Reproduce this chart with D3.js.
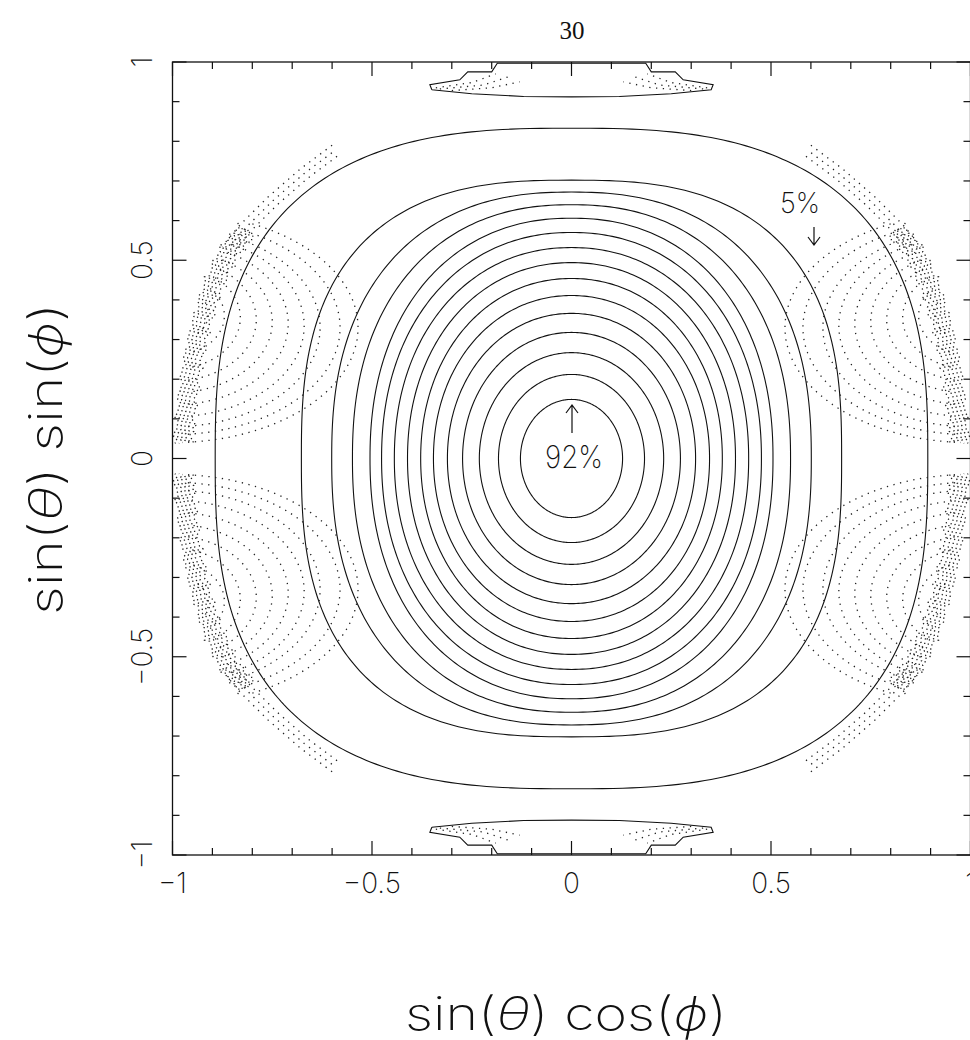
<!DOCTYPE html>
<html>
<head>
<meta charset="utf-8">
<script src="https://cdn.jsdelivr.net/npm/d3@7"></script>
<style>
  body { margin: 0; background: #fff; }
  svg text { font-family: Inter, "DejaVu Sans", sans-serif; font-weight: 200; fill: #111; }
</style>
</head>
<body>
<svg id="chart" width="970" height="1040"></svg>
<script>
// ── data (data units) ──
// solid acceptance contours: x half-width, y half-height, superellipse exponent
const solidA = [0.128, 0.183, 0.231, 0.273, 0.311, 0.346, 0.378, 0.411, 0.444, 0.476, 0.505, 0.549, 0.601, 0.677, 0.893];
const solidB = [0.149, 0.212, 0.267, 0.318, 0.366, 0.411, 0.454, 0.494, 0.532, 0.570, 0.606, 0.640, 0.672, 0.702, 0.833];
const solidN = [2.0, 2.0, 2.0, 2.02, 2.04, 2.06, 2.08, 2.1, 2.12, 2.15, 2.2, 2.27, 2.38, 2.7, 2.75];

// dotted side lobes (upper right; mirrored): nested arcs around x = 1
const lobeRx = [0.05, 0.09, 0.13, 0.17, 0.21, 0.25, 0.29, 0.33, 0.37, 0.42, 0.465];
const lobeRy = [0.04, 0.07, 0.10, 0.13, 0.155, 0.18, 0.205, 0.23, 0.25, 0.27, 0.29];
const lobeCy = [0.37, 0.365, 0.36, 0.355, 0.35, 0.345, 0.34, 0.335, 0.33, 0.33, 0.33];

// acceptance rim (first quadrant), from the top down to the x axis
const rimX = [0.60, 0.68, 0.76, 0.83, 0.88, 0.92, 0.95, 0.972, 0.986, 0.995];
const rimY = [0.79, 0.73, 0.66, 0.59, 0.53, 0.44, 0.34, 0.24, 0.13, 0.03];

// top / bottom caps (polygon outlines)
const capTopX = [-0.35, -0.355, -0.28, -0.26, -0.20, -0.186, 0.186, 0.20, 0.26, 0.28, 0.355, 0.35, 0.25, 0.12, 0, -0.12, -0.25];
const capTopY = [0.930, 0.943, 0.955, 0.975, 0.975, 0.997, 0.997, 0.975, 0.975, 0.955, 0.943, 0.930, 0.920, 0.913, 0.912, 0.913, 0.920];
// dotted lines inside the caps (left half, mirrored)
const capDotX = [[-0.34, -0.25, -0.19], [-0.33, -0.22, -0.16], [-0.30, -0.2, -0.13]];
const capDotY = [[0.935, 0.948, 0.97], [0.932, 0.942, 0.962], [0.928, 0.935, 0.95]];

const xTicks = [-1, -0.5, 0, 0.5, 1];
const xTickLabels = ["\u22121", "\u22120.5", "0", "0.5", "1"];
const yTicks = [-1, -0.5, 0, 0.5, 1];
const yTickLabels = ["\u22121", "\u22120.5", "0", "0.5", "1"];

const svg = d3.select("#chart");
const x = d3.scaleLinear().domain([-1, 1]).range([172.5, 970.5]);
const y = d3.scaleLinear().domain([-1, 1]).range([855, 62]);

svg.append("defs").append("clipPath").attr("id", "plotclip")
  .append("rect").attr("x", 172.5).attr("y", 62).attr("width", 798).attr("height", 793);

const plot = svg.append("g").attr("clip-path", "url(#plotclip)");
const line = d3.line().x(d => x(d[0])).y(d => y(d[1]));
const lineDef = d3.line().defined(d => d).x(d => x(d[0])).y(d => y(d[1]));

function dotted(sel) {
  return sel.attr("fill", "none").attr("stroke", "#222").attr("stroke-width", 1.3)
    .attr("stroke-dasharray", "1.3,5.5");
}

// superellipse points
function superPts(a, b, n) {
  const pts = [];
  for (let i = 0; i <= 360; i++) {
    const t = i / 360 * 2 * Math.PI;
    const c = Math.cos(t), s = Math.sin(t);
    pts.push([a * Math.sign(c) * Math.pow(Math.abs(c), 2 / n), b * Math.sign(s) * Math.pow(Math.abs(s), 2 / n)]);
  }
  return pts;
}

solidA.forEach((a, i) => {
  plot.append("path").attr("d", line(superPts(a, solidB[i], solidN[i])))
    .attr("fill", "none").attr("stroke", "#111").attr("stroke-width", 1.1);
});

// rim polygon (right half) used to trim the lobes
const rimQ1 = rimX.map((v, i) => [v, rimY[i]]);
const rimRight = [[0.5, 1.2]].concat(rimQ1, rimQ1.slice().reverse().map(p => [p[0], -p[1]]), [[0.5, -1.2]]);
const quads = [[1, 1], [1, -1], [-1, 1], [-1, -1]];

// dense rim sample
function rimPts(scale, i0, i1, wig) {
  const pts = [];
  for (let i = i0; i < i1; i++) {
    const p = rimQ1[i], q = rimQ1[i + 1];
    for (let k = 0; k < 12; k++) {
      const f = k / 12, j = i * 12 + k;
      const s = scale + wig * Math.sin(j * 1.7) * Math.cos(j * 0.6);
      pts.push([(p[0] + (q[0] - p[0]) * f) * s, (p[1] + (q[1] - p[1]) * f) * s]);
    }
  }
  return pts;
}

quads.forEach(([sx, sy]) => {
  // nested lobe arcs
  lobeRx.forEach((rx, i) => {
    const ry = lobeRy[i], cy = lobeCy[i];
    const pts = [];
    for (let j = 0; j <= 240; j++) {
      const t = j / 240 * 2 * Math.PI;
      const p = [1 + rx * Math.cos(t), cy + ry * Math.sin(t)];
      const inside = d3.polygonContains(rimRight, [p[0] / 0.985, p[1] / 0.985]);
      if (inside) pts.push([sx * p[0], sy * p[1]]);
      else if (pts.length && pts[pts.length - 1]) pts.push(null);
    }
    dotted(plot.append("path").attr("d", lineDef(pts)));
  });
  // smooth rim lines near the top
  [1.0, 0.985, 0.97].forEach((s, k) => {
    const pts = rimPts(s, 0, 4, 0).map(p => [sx * p[0], sy * p[1]]);
    dotted(plot.append("path").attr("d", line(pts))).attr("stroke-dashoffset", k * 2);
  });
  // ragged band along the lower rim
  [1.0, 0.99, 0.98, 0.97, 0.958].forEach((s, k) => {
    const pts = rimPts(s, 3, 9, 0.008).map(p => [sx * p[0], sy * p[1]]);
    dotted(plot.append("path").attr("d", line(pts))).attr("stroke-dasharray", "1.3,3.2")
      .attr("stroke-dashoffset", k * 1.5);
  });
});

// caps
[1, -1].forEach(sgn => {
  const pts = capTopX.map((v, i) => [v, sgn * capTopY[i]]);
  pts.push(pts[0]);
  plot.append("path").attr("d", line(pts))
    .attr("fill", "none").attr("stroke", "#111").attr("stroke-width", 1.1);
  [1, -1].forEach(side => {
    capDotX.forEach((xs, i) => {
      const p = xs.map((v, j) => [side * v, sgn * capDotY[i][j]]);
      dotted(plot.append("path").attr("d", line(p)));
    });
  });
});

// frame + ticks
svg.append("rect").attr("x", 172.5).attr("y", 62).attr("width", 798).attr("height", 793)
  .attr("fill", "none").attr("stroke", "#111").attr("stroke-width", 1.3);

const minor = d3.range(-10, 11).map(d => d / 10);
const tk = svg.append("g").attr("stroke", "#111").attr("stroke-width", 1.2);
minor.forEach(v => {
  const major = Math.abs(v * 2 - Math.round(v * 2)) < 1e-6;
  const L = major ? 14 : 7;
  tk.append("line").attr("x1", x(v)).attr("x2", x(v)).attr("y1", 62).attr("y2", 62 + L);
  tk.append("line").attr("x1", x(v)).attr("x2", x(v)).attr("y1", 855).attr("y2", 855 - L);
  tk.append("line").attr("y1", y(v)).attr("y2", y(v)).attr("x1", 172.5).attr("x2", 172.5 + L);
  tk.append("line").attr("y1", y(v)).attr("y2", y(v)).attr("x1", 970.5).attr("x2", 970.5 - L);
});

xTicks.forEach((v, i) => {
  svg.append("text").attr("x", x(v)).attr("y", 893).attr("text-anchor", "middle")
    .attr("font-size", 28).text(xTickLabels[i]);
});
yTicks.forEach((v, i) => {
  svg.append("text").attr("transform", `translate(152,${y(v)}) rotate(-90)`)
    .attr("text-anchor", "middle").attr("font-size", 28).text(yTickLabels[i]);
});

// title + axis titles
svg.append("text").attr("x", 572).attr("y", 39).attr("text-anchor", "middle")
  .style("font-family", "'Liberation Serif', serif").style("font-weight", 400).attr("font-size", 25).text("30");

function axisTitle(sel, word) {
  sel.attr("text-anchor", "middle").attr("font-size", 46)
    .attr("textLength", word === "cos" ? 322 : 312).attr("lengthAdjust", "spacingAndGlyphs");
  sel.append("tspan").text("sin(");
  sel.append("tspan").attr("font-style", "italic").text("\u03b8");
  sel.append("tspan").text(") " + word + "(");
  sel.append("tspan").attr("font-style", "italic").text("\u03d5");
  sel.append("tspan").text(")");
}
axisTitle(svg.append("text").attr("x", 566).attr("y", 1030), "cos");
axisTitle(svg.append("text").attr("transform", "translate(62,459) rotate(-90)"), "sin");

// annotations
svg.append("text").attr("x", 574).attr("y", 468).attr("text-anchor", "middle")
  .attr("font-size", 31).attr("textLength", 58).attr("lengthAdjust", "spacingAndGlyphs").text("92%");
svg.append("text").attr("x", 800).attr("y", 213).attr("text-anchor", "middle")
  .attr("font-size", 29).attr("textLength", 40).attr("lengthAdjust", "spacingAndGlyphs").text("5%");
const ar = svg.append("g").attr("stroke", "#111").attr("stroke-width", 1.2).attr("fill", "none");
ar.append("path").attr("d", "M572,433 V405 M566,413 L572,405 L578,413");
ar.append("path").attr("d", "M814,227 V245 M808,237 L814,245 L820,237");
</script>
</body>
</html>
